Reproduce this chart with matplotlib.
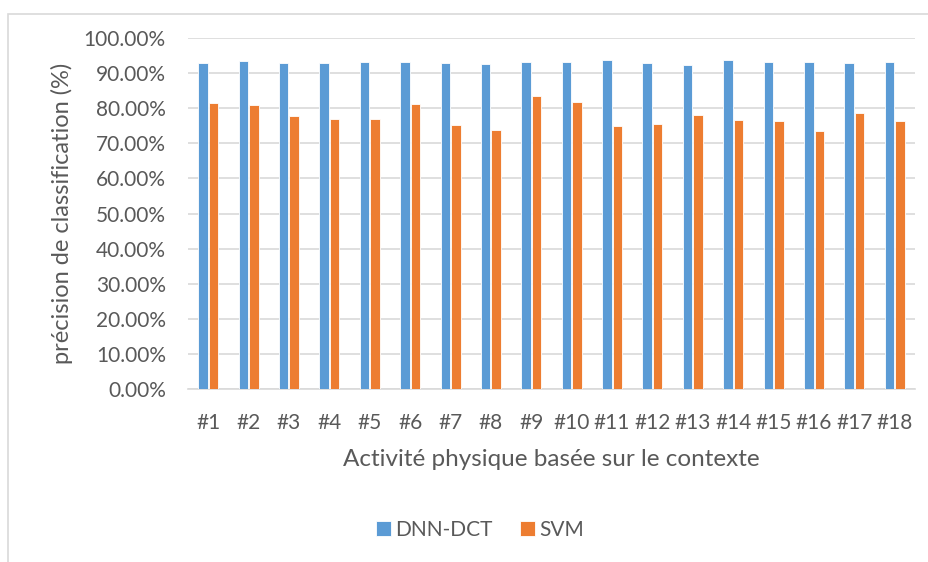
import matplotlib.pyplot as plt
import matplotlib.patches as mpatches
import numpy as np
from matplotlib.ticker import PercentFormatter

categories = ['#%d' % i for i in range(1, 19)]
dnn_dct = [93.0, 93.4, 93.0, 93.0, 93.3, 93.1, 92.9, 92.7, 93.3,
           93.1, 93.6, 92.9, 92.4, 93.8, 93.1, 93.2, 93.0, 93.1]
svm = [81.5, 80.9, 77.7, 76.8, 76.9, 81.1, 75.1, 73.8, 83.6,
       81.8, 74.9, 75.6, 78.1, 76.5, 76.4, 73.4, 78.5, 76.3]

blue = '#5B9BD5'
orange = '#ED7D31'
grey = '#595959'

plt.rcParams['font.family'] = ['Lato', 'DejaVu Sans']

fig = plt.figure(figsize=(9.29, 5.62), dpi=100)
ax = fig.add_axes([188 / 929, 1 - 389 / 562, (915 - 188) / 929, (389 - 38) / 562])

# light chart border like the spreadsheet frame
fig.patches.append(mpatches.Rectangle((8 / 929, -0.1), 1.2, 1 - 14 / 562 + 0.1,
                                      transform=fig.transFigure, fill=False,
                                      edgecolor='#d9d9d9', linewidth=1.2))

x = np.arange(len(categories))
w = 0.235
ax.bar(x - 0.13, np.array(dnn_dct) / 100, w, color=blue, edgecolor='white',
       linewidth=0.6, label='DNN-DCT', zorder=3)
ax.bar(x + 0.13, np.array(svm) / 100, w, color=orange, edgecolor='white',
       linewidth=0.6, label='SVM', zorder=3)

ax.set_xlim(-0.5, len(categories) - 0.5)
ax.set_ylim(0, 1)
ax.set_yticks(np.arange(0, 1.01, 0.1))
ax.yaxis.set_major_formatter(PercentFormatter(1.0, decimals=2))
ax.set_xticks(x)
ax.set_xticklabels(categories)

ax.grid(axis='y', color='#d9d9d9', linewidth=1.2, zorder=0)
for s in ['top', 'right', 'left']:
    ax.spines[s].set_visible(False)
ax.spines['bottom'].set_color('#d9d9d9')
ax.spines['bottom'].set_linewidth(1.2)
ax.tick_params(axis='both', length=0, colors=grey, labelsize=15)
ax.tick_params(axis='x', pad=17)
ax.tick_params(axis='y', pad=16)

ax.set_ylabel('précision de classification (%)', fontsize=17, color=grey, labelpad=8)
ax.set_xlabel('Activité physique basée sur le contexte', fontsize=17.5, color=grey, labelpad=12)

fig.legend(loc='center', bbox_to_anchor=(480 / 929, 1 - 530 / 562), ncol=2,
           frameon=False, fontsize=15, labelcolor=grey, handlelength=0.75,
           handleheight=0.75, columnspacing=1.3, handletextpad=0.2)

fig.savefig('out.png', dpi=100)
